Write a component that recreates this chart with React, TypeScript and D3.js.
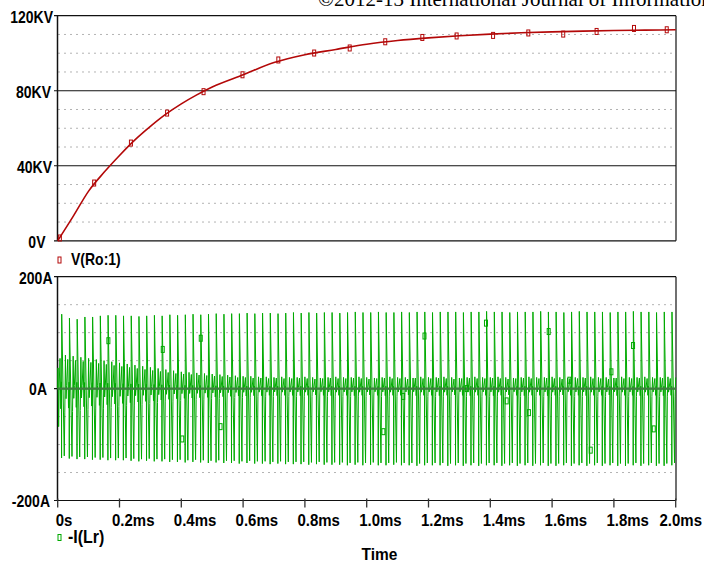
import React from 'react';
import * as d3 from 'd3';

// ---------- axis data ----------
const xTickValues = [0, 0.2, 0.4, 0.6, 0.8, 1.0, 1.2, 1.4, 1.6, 1.8, 2.0];
const xTickLabels = ['0s', '0.2ms', '0.4ms', '0.6ms', '0.8ms', '1.0ms', '1.2ms', '1.4ms', '1.6ms', '1.8ms', '2.0ms'];
const vMajorTicks = [0, 40, 80, 120];
const vMajorLabels = ['0V', '40KV', '80KV', '120KV'];
const vMinorTicks = [10, 20, 30, 50, 60, 70, 90, 100, 110];
const iMajorTicks = [-200, 0, 200];
const iMajorLabels = ['-200A', '0A', '200A'];
const iMinorTicks = [-150, -100, -50, 50, 100, 150];

// ---------- V(Ro:1) ----------
const vTimeMs = [0, 0.05, 0.1, 0.15, 0.2, 0.25, 0.3, 0.35, 0.4, 0.45, 0.5, 0.6, 0.7, 0.8, 0.9, 1.0, 1.1, 1.2, 1.3, 1.4, 1.5, 1.6, 1.7, 1.8, 1.9, 2.0];
const vKiloVolts = [0, 13, 26.5, 36.5, 45.5, 53.8, 61, 67.5, 73, 77.8, 82, 88.5, 95, 99.2, 102, 104.8, 106.8, 108.2, 109.3, 110.2, 110.9, 111.4, 111.8, 112.1, 112.3, 112.5];
const vMarkerTimeMs = [0.007, 0.118, 0.237, 0.354, 0.472, 0.598, 0.714, 0.83, 0.945, 1.06, 1.18, 1.291, 1.409, 1.523, 1.636, 1.744, 1.865, 1.971];
const vMarkerKV = [1.5, 30.8, 52.1, 68.1, 79.5, 88.5, 96.4, 100.1, 102.8, 106.1, 108.4, 109.2, 109.5, 110.8, 110.2, 111.6, 113.2, 112.5];

// ---------- -I(Lr) ----------
const iFirstEdgeMs = 0.013;
const iPeriodMs = 0.025;
const iPosPeak = [
  133, 126, 124, 128, 128, 130, 131, 131, 130, 130, 129,
  130, 131, 130, 132, 131, 132, 133, 132, 133, 134,
  133, 134, 134, 135, 134, 135, 135, 134, 135, 136,
  135, 136, 135, 136, 136, 135, 136, 137, 136, 136,
  137, 136, 136, 137, 136, 137, 137, 136, 137, 137,
  137, 136, 137, 137, 138, 137, 137, 136, 137, 137,
  137, 138, 137, 137, 136, 137, 138, 137, 137, 137,
  136, 137, 137, 138, 137, 137, 136, 137, 137,
];
const iNegPeak = [
  124, 125, 126, 126, 127, 127, 128, 128, 128, 129, 130,
  129, 130, 130, 131, 131, 132, 131, 132, 133, 132,
  133, 133, 134, 133, 134, 134, 135, 134, 135, 135,
  135, 136, 135, 136, 136, 136, 137, 136, 137, 136,
  137, 137, 136, 137, 137, 138, 137, 137, 137, 138,
  137, 138, 137, 138, 137, 137, 138, 137, 138, 137,
  138, 137, 138, 138, 137, 138, 137, 138, 137, 138,
  137, 138, 138, 137, 138, 137, 138, 138, 137,
];
const iRingAmp = [
  60, 58, 56, 54, 52, 50, 48, 46, 44, 42, 40, 38, 36,
  34, 32, 30, 29, 28, 27, 26, 25, 24, 23, 22, 22, 21,
  21, 20, 21, 20, 20, 21, 20, 19, 20, 21,
  20, 20, 21, 20, 19, 20, 21, 20, 20, 19,
  21, 20, 20, 21, 20, 19, 20, 21, 20, 20,
  21, 20, 19, 20, 21, 20, 20, 21, 20, 19,
  20, 20, 21, 20, 20, 19, 21, 20, 20, 21,
  20, 20, 21, 20,
];
// one switching period: phase (fraction of period, relative to the fast edge), which level, fraction of that level
const iShapePhase = [-0.36, -0.22, -0.12, -0.04, -0.02, 0.0, 0.33, 0.4, 0.48, 0.56];
const iShapeKind = ['s', 's', 's', 's', 'n', 'p', 'n', 's', 's', 's'];
const iShapeLevel = [0.1, 0.9, -0.6, 0.2, 1.0, 1.0, 0.97, -0.7, 1.0, -0.3];
const iStartTimeMs = [0, 0.001, 0.003, 0.005];
const iStartAmps = [0, 37, -68, 10];
const iMarkerTimeMs = [0.164, 0.34, 0.403, 0.463, 0.527, 1.054, 1.118, 1.187, 1.324, 1.386, 1.453, 1.525, 1.589, 1.656, 1.725, 1.792, 1.862, 1.929];
const iMarkerAmps = [85.6, 70, -90, 90, -68, -77, -14, 94, 0, 117, -22, -43, 102, 15, -110, 30, 77, -72];

const W = 704;
const H = 562;
const FONT = "'Liberation Sans', Arial, Helvetica, sans-serif";
const RED = '#b30808';
const GREEN = '#00aa00';

export default function App() {
  const x = d3.scaleLinear().domain([0, 2]).range([57.7, 675.7]);
  const yV = d3.scaleLinear().domain([0, 120]).range([240.8, 15.7]);
  const yI = d3.scaleLinear().domain([-200, 200]).range([500.5, 276.7]);
  const left = 57.5;
  const right = 676;

  const vPts: [number, number][] = vTimeMs.map((t, i) => [t, vKiloVolts[i]]);
  const vLine = d3
    .line<[number, number]>()
    .x((d) => x(d[0]))
    .y((d) => yV(d[1]))
    .curve(d3.curveMonotoneX);

  const iPts: [number, number][] = iStartTimeMs.map((t, i) => [t, iStartAmps[i]]);
  iPosPeak.forEach((p, k) => {
    const t0 = iFirstEdgeMs + k * iPeriodMs;
    iShapePhase.forEach((ph, j) => {
      const kind = iShapeKind[j];
      const lvl = kind === 'p' ? p : kind === 'n' ? -iNegPeak[k] : iRingAmp[k];
      const t = t0 + ph * iPeriodMs;
      if (t >= 0.0055 && t <= 2) iPts.push([t, lvl * iShapeLevel[j]]);
    });
  });
  iPts.sort((a, b) => a[0] - b[0]);
  const iLine = d3
    .line<[number, number]>()
    .defined((d) => Number.isFinite(d[1]))
    .x((d) => x(d[0]))
    .y((d) => yI(d[1]));

  const yLabelEnd: Record<string, number> = {
    '120KV': 53, '80KV': 51, '40KV': 52, '0V': 45.5, '200A': 52.5, '0A': 47, '-200A': 50,
  };

  const yLabel = (lab: string, y: number) => (
    <text
      key={lab}
      transform={`translate(${yLabelEnd[lab]},${y + 6.8}) scale(1,1.12)`}
      textAnchor="end"
      fontFamily={FONT}
      fontWeight="bold"
      fontSize={14}
      fill="#000"
    >
      {lab}
    </text>
  );

  return (
    <svg
      width={W}
      height={H}
      viewBox={`0 0 ${W} ${H}`}
      style={{ position: 'absolute', left: 0, top: 0, display: 'block', background: '#fff' }}
    >
      <rect x={0} y={0} width={W} height={H} fill="#fff" />
      <text x={318} y={6} fontFamily="'Liberation Serif', 'Times New Roman', serif" fontSize={21} fill="#000">
        ©2012-13 International Journal of Information
      </text>

      {/* ---- top plot grid ---- */}
      {vMinorTicks.map((v) => (
        <line key={'vm' + v} x1={left + 1} x2={right - 2} y1={yV(v)} y2={yV(v)} stroke="#666" strokeWidth={1} strokeDasharray="1,5" />
      ))}
      {vMajorTicks.map((v) => (
        <line key={'vM' + v} x1={54} x2={right} y1={yV(v)} y2={yV(v)} stroke="#111" strokeWidth={1.2} />
      ))}
      <line x1={left} x2={left} y1={yV(120)} y2={yV(0)} stroke="#111" strokeWidth={1.5} />
      <line x1={right} x2={right} y1={yV(120)} y2={yV(0)} stroke="#111" strokeWidth={1.2} />
      {vMajorTicks.map((v, i) => yLabel(vMajorLabels[i], yV(v)))}

      {/* ---- bottom plot grid ---- */}
      {iMinorTicks.map((v) => (
        <line key={'im' + v} x1={left + 1} x2={right - 2} y1={yI(v)} y2={yI(v)} stroke="#666" strokeWidth={1} strokeDasharray="1,5" />
      ))}
      {iMajorTicks.map((v) => (
        <line key={'iM' + v} x1={54} x2={right} y1={yI(v)} y2={yI(v)} stroke="#111" strokeWidth={1.2} />
      ))}
      <line x1={left} x2={left} y1={yI(200)} y2={yI(-200)} stroke="#111" strokeWidth={1.5} />
      <line x1={right} x2={right} y1={yI(200)} y2={yI(-200)} stroke="#111" strokeWidth={1.2} />
      {iMajorTicks.map((v, i) => yLabel(iMajorLabels[i], yI(v)))}

      {/* ---- x ticks ---- */}
      {xTickValues.map((t, i) => (
        <g key={'xt' + t}>
          <line x1={x(t)} x2={x(t)} y1={yI(-200) - 2} y2={yI(-200) + 7} stroke="#333" strokeWidth={1.3} />
          <text
            transform={`translate(${i === 0 ? x(t) - 2 : i === xTickValues.length - 1 ? 702 : x(t) - 7.5},525.5) scale(1,1.12)`}
            textAnchor={i === xTickValues.length - 1 ? 'end' : 'start'}
            fontFamily={FONT}
            fontWeight="bold"
            fontSize={15}
          >
            {xTickLabels[i]}
          </text>
        </g>
      ))}

      {/* ---- series ---- */}
      <path d={iLine(iPts) || ''} fill="none" stroke={GREEN} strokeWidth={1} />
      <line x1={left} x2={right} y1={yI(0)} y2={yI(0)} stroke="#3f7f3f" strokeWidth={2.2} />
      {iMarkerTimeMs.map((t, i) => (
        <rect key={'imk' + i} x={x(t) - 1.5} y={yI(iMarkerAmps[i]) - 3} width={3} height={6} fill="none" stroke={GREEN} strokeWidth={1} />
      ))}
      <path d={vLine(vPts) || ''} fill="none" stroke={RED} strokeWidth={1.6} />
      {vMarkerTimeMs.map((t, i) => (
        <rect key={'vmk' + i} x={x(t) - 1.5} y={yV(vMarkerKV[i]) - 3} width={3} height={6} fill="none" stroke={RED} strokeWidth={1} />
      ))}

      {/* ---- legends ---- */}
      <rect x={58} y={257} width={3} height={6} fill="none" stroke={RED} strokeWidth={1} />
      <text transform="translate(71,265) scale(1,1.12)" fontFamily={FONT} fontWeight="bold" fontSize={14}>
        V(Ro:1)
      </text>
      <rect x={58} y={534.5} width={3} height={6} fill="none" stroke={GREEN} strokeWidth={1} />
      <text transform="translate(68,543) scale(1,1.12)" fontFamily={FONT} fontWeight="bold" fontSize={16}>
        -I(Lr)
      </text>
      <text transform="translate(361.5,560) scale(1,1.12)" fontFamily={FONT} fontWeight="bold" fontSize={15.5}>
        Time
      </text>
    </svg>
  );
}
